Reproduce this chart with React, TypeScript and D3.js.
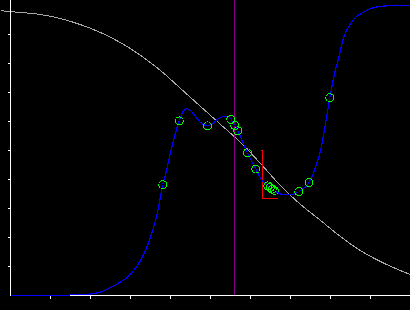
import React from "react";
import * as d3 from "d3";

// x in axis units (0..10), y in 0..1
const grayX = [-0.25, 0.25, 0.75, 1.25, 1.75, 2.25, 2.75, 3.25, 3.75, 4.25, 4.75, 5.25, 5.75, 6.25, 6.75, 7.25, 7.75, 8.25, 8.75, 9.25, 9.75, 10];
const grayY = [0.982, 0.976, 0.969, 0.955, 0.934, 0.907, 0.872, 0.828, 0.776, 0.714, 0.652, 0.59, 0.528, 0.455, 0.379, 0.314, 0.259, 0.203, 0.155, 0.117, 0.086, 0.072];

const blueX = [0, 1.475, 1.5, 1.925, 2.25, 2.5, 2.75, 2.918, 3.075, 3.25, 3.375, 3.5, 3.668, 3.808, 3.9, 4.0, 4.1, 4.218, 4.3, 4.4, 4.5, 4.625, 4.75, 4.925, 5.05, 5.2, 5.375, 5.458, 5.508, 5.608, 5.683, 5.8, 5.925, 6.133, 6.275, 6.433, 6.6, 6.75, 6.95, 7.075, 7.208, 7.325, 7.463, 7.55, 7.625, 7.75, 7.875, 7.983, 8.083, 8.208, 8.333, 8.5, 8.625, 8.75, 9.0, 9.25, 9.5, 10];
const blueY = [0, 0, 0.0035, 0.004, 0.012, 0.027, 0.047, 0.063, 0.086, 0.121, 0.155, 0.201, 0.283, 0.382, 0.431, 0.493, 0.548, 0.602, 0.631, 0.644, 0.638, 0.617, 0.597, 0.585, 0.593, 0.61, 0.618, 0.618, 0.607, 0.586, 0.568, 0.531, 0.492, 0.436, 0.4, 0.378, 0.362, 0.35, 0.348, 0.35, 0.358, 0.369, 0.389, 0.414, 0.442, 0.5, 0.592, 0.682, 0.753, 0.822, 0.891, 0.937, 0.959, 0.971, 0.989, 0.997, 0.999, 0.999];

const pointX = [3.808, 4.218, 4.925, 5.508, 5.608, 5.683, 5.925, 6.133, 6.433, 6.493, 6.543, 6.6, 7.208, 7.463, 7.983];
const pointY = [0.382, 0.602, 0.585, 0.607, 0.586, 0.568, 0.492, 0.436, 0.378, 0.372, 0.367, 0.362, 0.358, 0.389, 0.682];

const markerX = 5.608;

// red bracket
const bracketX = 6.3;
const bracketTickLeft = 6.2675;
const bracketRight = 6.6925;
const bracketTop = 0.5;
const bracketBottom = 0.333;

const xTicks = [1, 2, 3, 4, 5, 6, 7, 8, 9];
const yTicks = [0.1, 0.2, 0.3, 0.4, 0.5, 0.6, 0.7, 0.8, 0.9];

const W = 410;
const H = 310;

export default function App() {
  const x = d3.scaleLinear().domain([0, 10]).range([10.5, 410.5]);
  const y = d3.scaleLinear().domain([0, 1]).range([295.5, 5.5]);

  const gray = grayX.map((v, i) => [v, grayY[i]] as [number, number]);
  const blue = blueX.map((v, i) => [v, blueY[i]] as [number, number]);
  const pts = pointX.map((v, i) => [v, pointY[i]] as [number, number]);

  const line = d3
    .line<[number, number]>()
    .x((d) => x(d[0]))
    .y((d) => y(d[1]))
    .curve(d3.curveMonotoneX);

  const x0 = x(0);
  const y0 = y(0);

  return (
    <svg
      width={W}
      height={H}
      style={{ position: "absolute", left: 0, top: 0, display: "block", background: "#000" }}
    >
      <rect x={0} y={0} width={W} height={H} fill="#000" />
      <path d={line(gray) || ""} fill="none" stroke="#a8a8a8" strokeWidth={1} shapeRendering="crispEdges" />
      <line x1={x(markerX)} x2={x(markerX)} y1={0} y2={y0} stroke="#8b008b" strokeWidth={1} shapeRendering="crispEdges" />
      <g stroke="#ff0000" strokeWidth={1} shapeRendering="crispEdges" fill="none">
        <line x1={x(bracketTickLeft)} x2={x(bracketX)} y1={y(bracketTop)} y2={y(bracketTop)} />
        <line x1={x(bracketX)} x2={x(bracketX)} y1={y(bracketTop)} y2={y(bracketBottom)} />
        <line x1={x(bracketX)} x2={x(bracketRight)} y1={y(bracketBottom)} y2={y(bracketBottom)} />
      </g>
      {/* axes */}
      <g stroke="#fff" strokeWidth={1} shapeRendering="crispEdges">
        <line x1={x0} x2={x0} y1={0} y2={y0} />
        <line x1={x0} x2={W} y1={y0} y2={y0} />
        {xTicks.map((t) => (
          <line key={"x" + t} x1={x(t)} x2={x(t)} y1={y0} y2={y0 + 3} />
        ))}
        {yTicks.map((t) => (
          <line key={"y" + t} x1={x0 - 3} x2={x0} y1={y(t)} y2={y(t)} />
        ))}
      </g>
      <path d={line(blue) || ""} fill="none" stroke="#0000ff" strokeWidth={1.2} shapeRendering="crispEdges" />
      {pts.map((p, i) => (
        <g key={i}>
          <circle cx={x(p[0])} cy={y(p[1])} r={4} fill="none" stroke="#00ff00" strokeWidth={1} shapeRendering="crispEdges" />
          <rect x={Math.floor(x(p[0]))} y={Math.floor(y(p[1]))} width={1} height={1} fill="#000" />
        </g>
      ))}
    </svg>
  );
}
